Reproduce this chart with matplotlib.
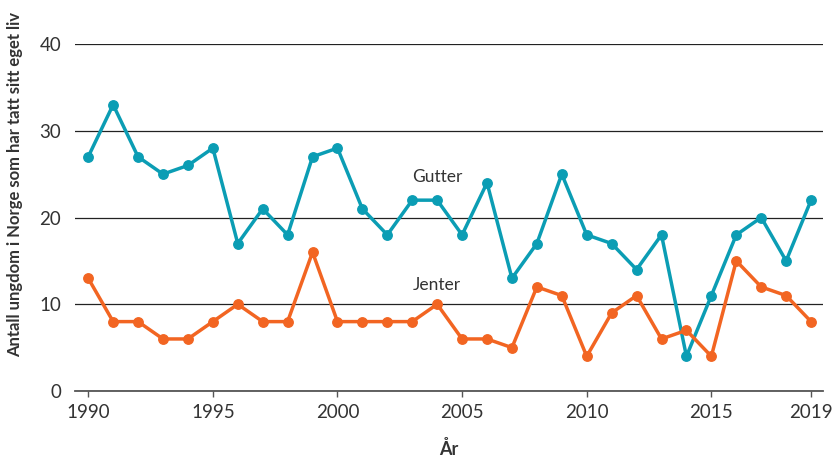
import matplotlib
matplotlib.use("Agg")
import matplotlib.pyplot as plt

plt.rcParams['font.family'] = ['Lato', 'DejaVu Sans']

years = list(range(1990, 2020))
gutter = [27, 33, 27, 25, 26, 28, 17, 21, 18, 27, 28, 21, 18, 22, 22,
          18, 24, 13, 17, 25, 18, 17, 14, 18, 4, 11, 18, 20, 15, 22]
jenter = [13, 8, 8, 6, 6, 8, 10, 8, 8, 16, 8, 8, 8, 8, 10,
          6, 6, 5, 12, 11, 4, 9, 11, 6, 7, 4, 15, 12, 11, 8]
xticks = [1990, 1995, 2000, 2005, 2010, 2015, 2019]
yticks = [0, 10, 20, 30, 40]

cyan = '#0b9db4'
orange = '#f26522'
txt = '#333333'

fig = plt.figure(figsize=(8.37, 4.57), dpi=100)
ax = fig.add_axes([0.0896, 0.1444, 0.8937, 0.7593])

ax.plot(years, gutter, color=cyan, lw=2.5, marker='o', ms=6.8, clip_on=False, zorder=3)
ax.plot(years, jenter, color=orange, lw=2.5, marker='o', ms=6.8, clip_on=False, zorder=3)

ax.text(2004.0, 23.7, 'Gutter', color=txt, fontsize=12.5, ha='center', va='bottom')
ax.text(2004.0, 11.3, 'Jenter', color=txt, fontsize=12.5, ha='center', va='bottom')

ax.set_xlim(1989.47, 2019.48)
ax.set_ylim(0, 40)
ax.set_xticks(xticks)
ax.set_yticks(yticks)
ax.yaxis.grid(True, color='#222222', lw=0.9)
ax.set_axisbelow(True)
for s in ['top', 'right', 'left']:
    ax.spines[s].set_visible(False)
ax.spines['bottom'].set_color('#555555')
ax.spines['bottom'].set_linewidth(1.3)
ax.tick_params(axis='y', length=0, pad=10, labelsize=13.5, labelcolor=txt)
ax.tick_params(axis='x', length=4, width=1, color='#555555', pad=5,
               labelsize=13.5, labelcolor=txt)

ax.set_xlabel('År', fontsize=13, fontweight='bold', color=txt, labelpad=14)
ax.set_ylabel('Antall ungdom i Norge som har tatt sitt eget liv', fontsize=12,
              fontweight='bold', color=txt)
ax.yaxis.set_label_coords(-0.069, 0.595)

fig.savefig('out.png', dpi=100)
